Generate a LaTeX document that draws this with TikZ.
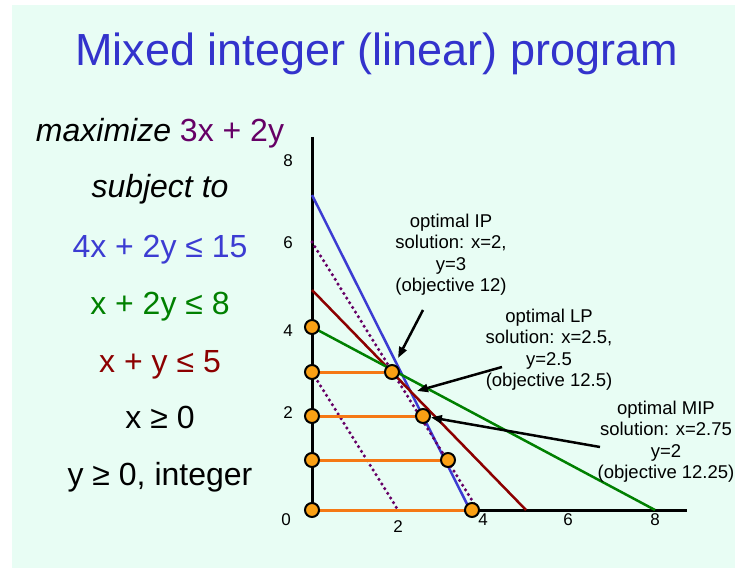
\documentclass[tikz,border=0pt]{standalone}
\usepackage{fontspec}
\setmainfont{Liberation Sans}
\usetikzlibrary{arrows.meta,backgrounds}
\definecolor{bgmint}{RGB}{232,253,244}
\definecolor{ttlblue}{RGB}{51,51,204}
\definecolor{cblue}{RGB}{60,60,210}
\definecolor{cpurple}{RGB}{102,0,102}
\definecolor{cgreen}{RGB}{0,128,0}
\definecolor{cred}{RGB}{140,0,0}
\definecolor{corange}{RGB}{245,120,20}
\definecolor{cdotfill}{RGB}{250,160,20}
\begin{document}
\begin{tikzpicture}[x=1pt,y=-1pt,
  lefttext/.style={anchor=base,inner sep=0pt,font=\fontsize{32}{38}\selectfont},
  tick/.style={inner sep=0pt,font=\fontsize{17}{20}\selectfont},
  note/.style={align=center,inner sep=0pt,font=\fontsize{18.5}{21.5}\selectfont},
  axisline/.style={line width=3pt,black},
  cline/.style={line width=2.5pt},
  dotline/.style={line width=3.5pt,cpurple,dash pattern=on 0pt off 5.5pt,line cap=round},
  oline/.style={line width=3pt,corange},
  ptdot/.style={circle,fill=cdotfill,draw=black,line width=2pt,minimum size=14pt,inner sep=0pt},
  arr/.style={line width=2.5pt,-{Triangle[length=11pt,width=8pt]}}]
\useasboundingbox (0,0) rectangle (735,569);

% integer points
\node[ptdot] (c4l) at (312,327) {};
\node[ptdot] (c3l) at (312,372) {};
\node[ptdot] (c3r) at (392,372) {};
\node[ptdot] (c2l) at (312,416) {};
\node[ptdot] (c2r) at (423,416) {};
\node[ptdot] (c1l) at (312,460) {};
\node[ptdot] (c1r) at (448,460) {};
\node[ptdot] (c0l) at (312,510) {};
\node[ptdot] (c0r) at (472,510) {};

\begin{pgfonlayer}{background}
  \fill[white] (0,0) rectangle (735,569);
  \fill[bgmint] (12,5) rectangle (735,568);
  % axes
  \draw[axisline] (312,137) -- (312,511);
  \draw[axisline] (311,510) -- (687,510);
  % constraint lines
  \draw[cline,cblue] (312,195) -- (470,510);
  \draw[cline,cred] (312,290) -- (526,510);
  \draw[cline,cgreen] (312,327) -- (655,510);
  \draw[dotline] (312,242) -- (478,510);
  \draw[dotline] (312,372) -- (398,510);
  % orange rows
  \draw[oline] (c3l) -- (c3r);
  \draw[oline] (c2l) -- (c2r);
  \draw[oline] (c1l) -- (c1r);
  \draw[oline] (c0l) -- (c0r);
\end{pgfonlayer}

% tick labels
\node[tick] (ty8) at (288,161) {8};
\node[tick] (ty6) at (288,243) {6};
\node[tick] (ty4) at (288,331) {4};
\node[tick] (ty2) at (288,413) {2};
\node[tick] (ty0) at (286,520) {0};
\node[tick] (tx2) at (398,527) {2};
\node[tick] (tx4) at (483,520) {4};
\node[tick] (tx6) at (568,520) {6};
\node[tick] (tx8) at (655,520) {8};

% title
\node[anchor=base,inner sep=0pt,text=ttlblue,font=\fontsize{45}{54}\selectfont] (title) at (376.5,66) {Mixed integer (linear) program};

% program text
\node[lefttext] (obj) at (160,142) {\textit{maximize} \textcolor{cpurple}{3x + 2y}};
\node[lefttext] (st) at (160,197) {\textit{subject to}};
\node[lefttext,text=cblue] (con1) at (160,257) {4x + 2y ≤ 15};
\node[lefttext,text=cgreen] (con2) at (160,314) {x + 2y ≤ 8};
\node[lefttext,text=cred] (con3) at (160,372) {x + y ≤ 5};
\node[lefttext] (con4) at (160,428) {x ≥ 0};
\node[lefttext] (con5) at (160,485) {y ≥ 0, integer};

% annotations
\node[note] (ipnote) at (451,254.5) {optimal IP\\solution: x=2,\\y=3\\(objective 12)};
\node[note] (lpnote) at (549,349.5) {optimal LP\\solution: x=2.5,\\y=2.5\\(objective 12.5)};
\node[note] (mipnote) at (666,441.5) {optimal MIP\\solution: x=2.75\\y=2\\(objective 12.25)};

% arrows
\coordinate (ipS) at (423,310);
\coordinate (ipT) at (398,358);
\coordinate (lpS) at (502,367);
\coordinate (lpT) at (417,391);
\coordinate (mipS) at (600,447);
\draw[arr] (ipS) -- (ipT);
\draw[arr] (lpS) -- (lpT);
\draw[arr] (mipS) -- (c2r);
\end{tikzpicture}
\end{document}
